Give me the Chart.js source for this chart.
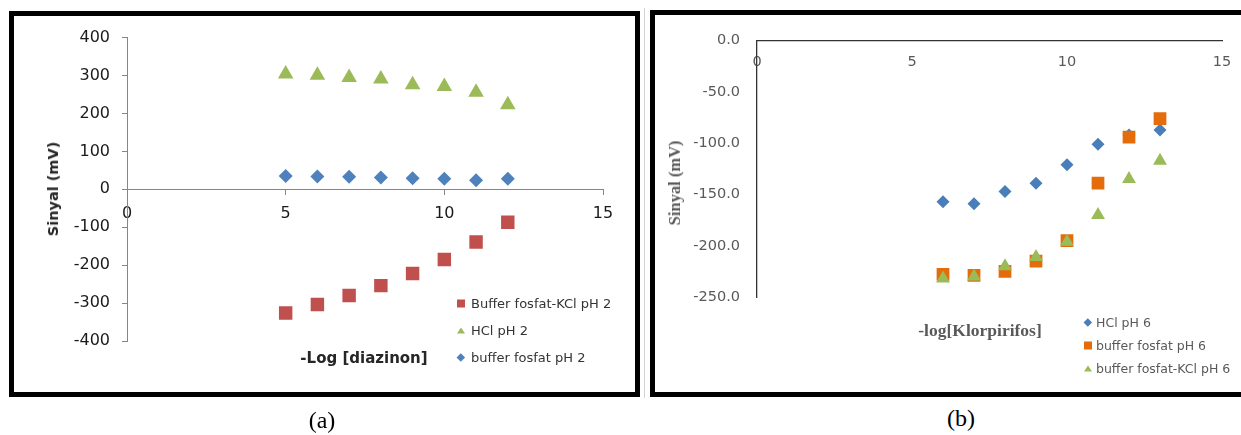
<!DOCTYPE html>
<html>
<head>
<meta charset="utf-8">
<title>Sinyal vs -log konsentrasi</title>
<script src="https://cdn.jsdelivr.net/npm/chart.js@4.4.1/dist/chart.umd.min.js"></script>
<style>
    body { margin: 0; width: 1241px; height: 435px; overflow: hidden; background: #fff; position: relative; font-family: "DejaVu Sans", sans-serif; }
    .frame { position: absolute; border: 5px solid #000; box-sizing: border-box; background: #fff; }
    #frameA { left: 9px; top: 11px; width: 631px; height: 386px; }
    #frameB { left: 650px; top: 10px; width: 610px; height: 387px; }
    .frame canvas { position: absolute; left: 0; top: 0; }
    #sep { position: absolute; left: 644px; top: 8px; width: 1px; height: 390px; background: #d4d4d4; }
    .lbl { position: absolute; transform: translate(-50%, -50%); white-space: nowrap; }
    .vlbl { position: absolute; transform: translate(-50%, -50%) rotate(-90deg); white-space: nowrap; }
    .row { position: absolute; display: flex; align-items: center; white-space: nowrap; transform: translateY(-50%); }
    .mark { display: flex; align-items: center; justify-content: center; }
    .caption { position: absolute; transform: translate(-50%, -50%); font-family: "Liberation Serif", serif; font-size: 24px; color: #000; }
</style>
</head>
<body>
<div id="sep"></div>
<div class="frame" id="frameA"><canvas id="chartA" width="621" height="376"></canvas></div>
<div class="frame" id="frameB"><canvas id="chartB" width="600" height="377"></canvas></div>

<div class="vlbl" style="left:53px;top:189px;font-weight:bold;font-size:14.5px;color:#262626;">Sinyal (mV)</div>
<div class="lbl" style="left:364px;top:358px;font-weight:bold;font-size:15px;color:#262626;">-Log [diazinon]</div>

<div class="vlbl" style="left:675px;top:183px;font-family:'Liberation Serif',serif;font-weight:bold;font-size:16.5px;color:#595959;">Sinyal (mV)</div>
<div class="lbl" style="left:980px;top:330px;font-family:'Liberation Serif',serif;font-weight:bold;font-size:17.5px;color:#595959;">-log[Klorpirifos]</div>

<div id="legendA"></div>
<div id="legendB"></div>

<div class="caption" style="left:322px;top:420px;">(a)</div>
<div class="caption" style="left:961px;top:418px;">(b)</div>

<script>
// (a) -Log [diazinon]
const diazinonLog = [5, 6, 7, 8, 9, 10, 11, 12];
const fosfatKclPh2 = [-326, -304, -280, -254, -222, -185, -139, -87];
const hclPh2 = [304, 301, 295, 291, 276, 271, 256, 223];
const fosfatPh2 = [35, 34, 33, 31, 29, 28, 24, 28];

// (b) -log[Klorpirifos]
const klorpirifosLog = [6, 7, 8, 9, 10, 11, 12, 13];
const hclPh6 = [-157, -159, -147, -139, -121, -101, -92, -87];
const fosfatPh6 = [-228, -229, -225, -215, -195, -139, -94, -76];
const fosfatKclPh6 = [-232, -230, -220, -211, -196, -170, -135, -117];

const xRangeA = [0, 15];
const yRangeA = [-400, 400];
const xRangeB = [0, 15];
const yRangeB = [-250, 0];

const legendLabelsA = ["Buffer fosfat-KCl pH 2", "HCl pH 2", "buffer fosfat pH 2"];
const legendLabelsB = ["HCl pH 6", "buffer fosfat pH 6", "buffer fosfat-KCl pH 6"];

function toPoints(xs, ys) {
    return xs.map((x, i) => ({ x: x, y: ys[i] }));
}

function pointSet(label, xs, ys, style, radius, color, order) {
    return {
        label: label,
        data: toPoints(xs, ys),
        pointStyle: style,
        pointRadius: radius,
        pointHoverRadius: radius,
        pointBackgroundColor: color,
        pointBorderWidth: 0,
        backgroundColor: color,
        order: order
    };
}

// chart (a)
const ctxA = document.getElementById("chartA").getContext("2d");
new Chart(ctxA, {
    type: "scatter",
    data: {
        datasets: [
            pointSet(legendLabelsA[0], diazinonLog, fosfatKclPh2, "rect", 9.5, "#C0504D", 1),
            pointSet(legendLabelsA[1], diazinonLog, hclPh2, "triangle", 9, "#9BBB59", 2),
            pointSet(legendLabelsA[2], diazinonLog, fosfatPh2, "rectRot", 7, "#4F81BD", 3)
        ]
    },
    options: {
        responsive: false,
        animation: false,
        layout: { padding: { left: 0, right: 32, top: 19, bottom: 51 } },
        plugins: { legend: { display: false }, tooltip: { enabled: false } },
        scales: {
            x: {
                type: "linear",
                position: { y: 0 },
                min: xRangeA[0],
                max: xRangeA[1],
                ticks: { stepSize: 5, padding: 10, color: "#1a1a1a", font: { family: "DejaVu Sans", size: 16 } },
                grid: { drawOnChartArea: false, tickLength: 5, color: "#868686" },
                border: { color: "#868686" }
            },
            y: {
                min: yRangeA[0],
                max: yRangeA[1],
                ticks: { stepSize: 100, padding: 12, color: "#1a1a1a", font: { family: "DejaVu Sans", size: 16 } },
                grid: { drawOnChartArea: false, tickLength: 5, color: "#868686" },
                border: { color: "#868686" },
                afterFit: (scale) => { scale.width = 113; }
            }
        }
    }
});

// chart (b)
const ctxB = document.getElementById("chartB").getContext("2d");
new Chart(ctxB, {
    type: "scatter",
    data: {
        datasets: [
            pointSet(legendLabelsB[0], klorpirifosLog, hclPh6, "rectRot", 6.5, "#4A7EBB", 3),
            pointSet(legendLabelsB[1], klorpirifosLog, fosfatPh6, "rect", 9, "#E46C0A", 2),
            pointSet(legendLabelsB[2], klorpirifosLog, fosfatKclPh6, "triangle", 8, "#9BBB59", 1)
        ]
    },
    options: {
        responsive: false,
        animation: false,
        layout: { padding: { left: 0, right: 33, top: 25, bottom: 95 } },
        plugins: { legend: { display: false }, tooltip: { enabled: false } },
        scales: {
            x: {
                type: "linear",
                position: { y: 0 },
                min: xRangeB[0],
                max: xRangeB[1],
                ticks: { stepSize: 5, padding: 13, color: "#595959", font: { family: "DejaVu Sans", size: 14.5 } },
                grid: { drawOnChartArea: false, drawTicks: false },
                border: { color: "#333", width: 1.3 }
            },
            y: {
                min: yRangeB[0],
                max: yRangeB[1],
                ticks: {
                    stepSize: 50,
                    padding: 17,
                    color: "#595959",
                    font: { family: "DejaVu Sans", size: 14.5 },
                    callback: (v) => v.toFixed(1)
                },
                grid: { drawOnChartArea: false, drawTicks: false },
                border: { color: "#333", width: 1.3 },
                afterFit: (scale) => { scale.width = 102; }
            }
        }
    }
});

function makeMarker(style, color, size) {
    const box = document.createElement("div");
    box.className = "mark";
    box.style.width = (size + 2) + "px";
    box.style.height = (size + 2) + "px";
    const m = document.createElement("div");
    if (style === "rect") {
        m.style.width = size + "px";
        m.style.height = size + "px";
        m.style.background = color;
    } else if (style === "triangle") {
        m.style.width = "0";
        m.style.height = "0";
        m.style.borderLeft = (size / 2) + "px solid transparent";
        m.style.borderRight = (size / 2) + "px solid transparent";
        m.style.borderBottom = (size * 0.85) + "px solid " + color;
    } else {
        const s = size * 0.7;
        m.style.width = s + "px";
        m.style.height = s + "px";
        m.style.background = color;
        m.style.transform = "rotate(45deg)";
    }
    box.appendChild(m);
    return box;
}

function renderLegend(containerId, labels, styles, colors, left, rows, gap, font) {
    const container = document.getElementById(containerId);
    container.innerHTML = "";
    labels.forEach((label, i) => {
        const row = document.createElement("div");
        row.className = "row";
        row.style.left = left + "px";
        row.style.top = rows[i] + "px";
        row.appendChild(makeMarker(styles[i], colors[i], 8));
        const text = document.createElement("span");
        text.textContent = label;
        text.style.marginLeft = gap + "px";
        text.style.fontSize = font.size + "px";
        text.style.color = font.color;
        row.appendChild(text);
        container.appendChild(row);
    });
}

renderLegend("legendA", legendLabelsA, ["rect", "triangle", "rectRot"],
    ["#C0504D", "#9BBB59", "#4F81BD"], 456, [303, 330, 357], 5, { size: 13, color: "#333" });
renderLegend("legendB", legendLabelsB, ["rectRot", "rect", "triangle"],
    ["#4A7EBB", "#E46C0A", "#9BBB59"], 1083, [322, 345, 368], 3, { size: 12.5, color: "#595959" });
</script>
</body>
</html>
